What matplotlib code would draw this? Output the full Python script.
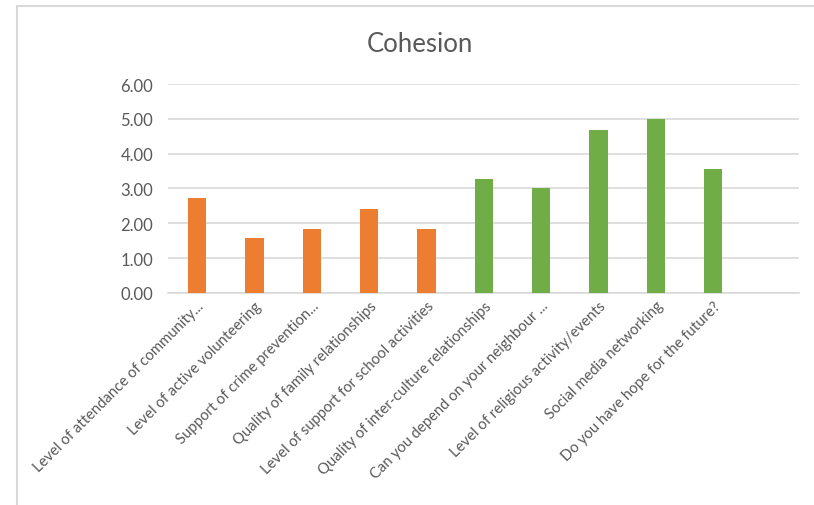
import numpy as np
import matplotlib.pyplot as plt
from matplotlib.lines import Line2D

# Datos del gráfico
categorias = [
    "Level of attendance of community...",
    "Level of active volunteering",
    "Support of crime prevention...",
    "Quality of family relationships",
    "Level of support for school activities",
    "Quality of inter-culture relationships",
    "Can you depend on your neighbour ...",
    "Level of religious activity/events",
    "Social media networking",
    "Do you have hope for the future?",
]
valores = [2.72, 1.57, 1.84, 2.42, 1.84, 3.26, 3.01, 4.69, 4.99, 3.56]
grupos = ["naranja"] * 5 + ["verde"] * 5

colores_grupo = {"naranja": "#ED7D31", "verde": "#70AD47"}
gris_texto = "#595959"
gris_linea = "#D9D9D9"

plt.rcParams['font.family'] = ['Lato', 'DejaVu Sans']

fig = plt.figure(figsize=(8.14, 5.06), dpi=100)
ax = fig.add_axes([0.2068, 0.419, 0.7752, 0.413])

x = np.arange(len(categorias))
ax.bar(x, valores, width=0.32, color=[colores_grupo[g] for g in grupos], zorder=3)

# Ejes y rejilla
ax.set_xlim(-0.5, len(categorias) + 0.5)
ax.set_ylim(0, 6)
ax.set_yticks(np.arange(0, 7, 1))
ax.set_yticklabels([f"{v:.2f}" for v in np.arange(0, 7, 1)])
ax.yaxis.grid(True, color=gris_linea, linewidth=1.2, zorder=0)
for s in ['top', 'right', 'left']:
    ax.spines[s].set_visible(False)
ax.spines['bottom'].set_color(gris_linea)
ax.spines['bottom'].set_linewidth(1.2)
ax.tick_params(axis='y', length=0, pad=11, labelsize=12, labelcolor=gris_texto)
ax.tick_params(axis='x', length=0, pad=4, labelsize=10.75, labelcolor=gris_texto)

ax.set_xticks(x)
ax.set_xticklabels(categorias, rotation=45, ha='right', va='top',
                   rotation_mode='anchor')

fig.text(0.516, 0.913, "Cohesion", ha='center', va='center',
         fontsize=18.5, color=gris_texto)

# Marco del gráfico (solo arriba e izquierda visibles)
fig.add_artist(Line2D([17 / 814, 1], [1 - 7 / 506, 1 - 7 / 506],
                      transform=fig.transFigure, color=gris_linea, linewidth=1.5))
fig.add_artist(Line2D([17 / 814, 17 / 814], [0, 1 - 7 / 506],
                      transform=fig.transFigure, color=gris_linea, linewidth=1.5))

fig.savefig("out.png", dpi=100, facecolor='white')
